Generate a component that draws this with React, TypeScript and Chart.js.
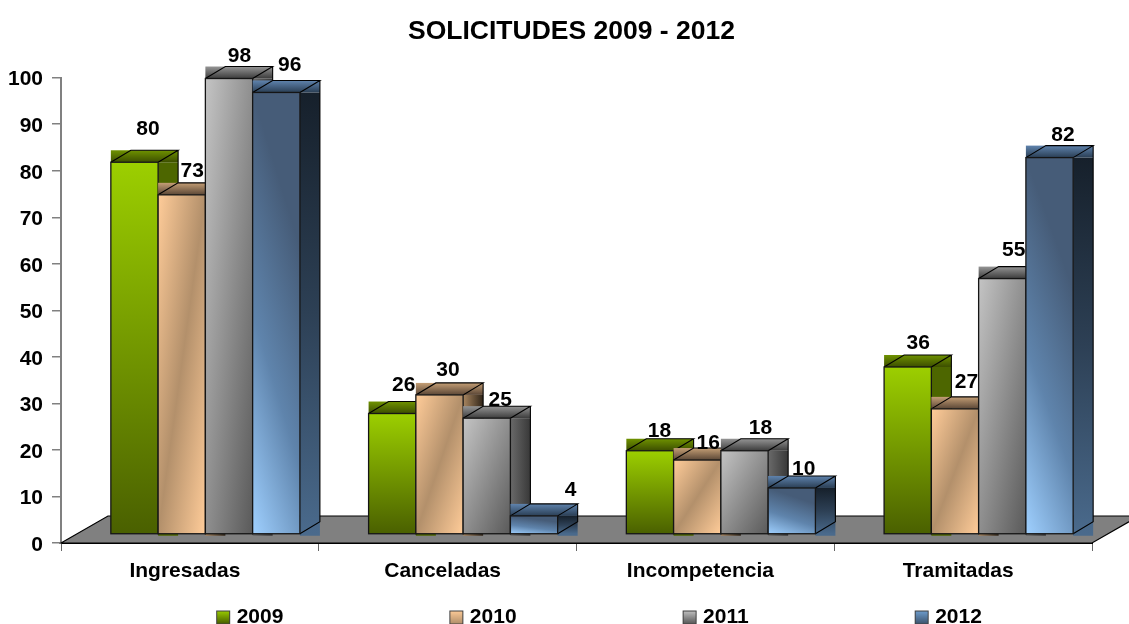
import React, { useEffect, useRef } from "react";
import { Chart, registerables } from "chart.js";

Chart.register(...registerables);

const categories = ["Ingresadas", "Canceladas", "Incompetencia", "Tramitadas"];
const seriesNames = ["2009", "2010", "2011", "2012"];
// bar heights
const values2009 = [80, 26, 18, 36];
const values2010 = [73, 30, 16, 27];
const values2011 = [98, 25, 18, 55];
const values2012 = [95, 4, 10, 81];
// printed data labels
const labels2009 = ["80", "26", "18", "36"];
const labels2010 = ["73", "30", "16", "27"];
const labels2011 = ["98", "25", "18", "55"];
const labels2012 = ["96", "4", "10", "82"];

const FONT = '"Liberation Sans", Arial, sans-serif';
const DX = 20; // depth of the 3D projection
const DY = 12;
const SHIFT_X = 15.5; // floor projection offset of the bars
const SHIFT_Y = 8.5;

// label nudges relative to the front-top centre of each bar
const labelNudges: number[][][] = [
  [[13.5, -34], [11.5, -29], [9.5, -21], [10.5, -25]],
  [[10.5, -25], [8.5, -26], [11, -18], [11.5, -28]],
  [[10.5, -23], [13.5, -19], [16, -24], [11.5, -29]],
  [[13.5, -28], [36.5, -27], [12, -20], [13.5, -23]],
];

type Ctx = CanvasRenderingContext2D;
function grad(ctx: Ctx, x0: number, y0: number, x1: number, y1: number, stops: string[]) {
  const g = ctx.createLinearGradient(x0, y0, x1, y1);
  stops.forEach((c, i) => g.addColorStop(stops.length === 1 ? 0 : i / (stops.length - 1), c));
  return g;
}
// gradient where u = ax*(x-l)/w + ay*(y-t)/h runs over the stops, u=0 at (l+ox*w, t)
function tilted(c: Ctx, l: number, t: number, r: number, b: number, ax: number, ay: number, stops: string[], ox = 0) {
  const w = r - l;
  const h = Math.max(b - t, 1);
  const k = 1 / ((ax * ax) / (w * w) + (ay * ay) / (h * h));
  const x0 = l + ox * w;
  return grad(c, x0, t, x0 + (k * ax) / w, t + (k * ay) / h, stops);
}

type Faces = {
  front: (c: Ctx, l: number, t: number, r: number, b: number) => CanvasGradient;
  side: (c: Ctx, l: number, t: number, r: number, b: number) => CanvasGradient;
  top: string[];
};

const faces: Faces[] = [
  {
    front: (c, l, t, r, b) => grad(c, l, t, l, b, ["#9ccf00", "#4a6000"]),
    side: (c, l, t, r, b) => grad(c, l, t, l, b, ["#4d6600", "#4d6600"]),
    top: ["#6f9200", "#3c4e00"],
  },
  {
    front: (c, l, t, r, b) => tilted(c, l, t, r, b, 0.5, 0.5, ["#ffcc99", "#b3906b", "#ffcc99"]),
    side: (c, l, t, r, b) => grad(c, l, t, r, t, ["#a98660", "#2f2418"]),
    top: ["#c49e75", "#5a4636"],
  },
  {
    front: (c, l, t, r, b) => tilted(c, l, t, r, b, 0.5, 0.5, ["#c4c4c4", "#5a5a5a"]),
    side: (c, l, t, r, b) => grad(c, l, t, r, t, ["#6a6a6a", "#383838"]),
    top: ["#959595", "#3c3c3c"],
  },
  {
    front: (c, l, t, r, b) => tilted(c, l, t, r, b, -0.35, 1, ["#465c78", "#5f84ac", "#9fd0ff"]),
    side: (c, l, t, r, b) => grad(c, l, t, l, b, ["#16202b", "#2d4055", "#4a6a8c"]),
    top: ["#5f83ad", "#2a3e54"],
  },
];

const legendFaces: string[][] = [
  ["#9ccf00", "#4a6000"],
  ["#ffcc99", "#b3906b"],
  ["#c4c4c4", "#5a5a5a"],
  ["#6f9fd0", "#3f5670"],
];

function legendImage(stops: string[]) {
  const cv = document.createElement("canvas");
  cv.width = 186;
  cv.height = 16;
  const c = cv.getContext("2d") as Ctx;
  c.fillStyle = grad(c, 0, 1, 0, 14, stops);
  c.fillRect(170.5, 1.5, 13, 13);
  c.strokeStyle = "#404040";
  c.lineWidth = 1;
  c.strokeRect(170.5, 1.5, 13, 13);
  return cv;
}

const bars3d = {
  id: "bars3d",
  beforeDatasetsDraw(chart: any) {
    const { ctx, chartArea: a } = chart;
    // floor
    ctx.save();
    ctx.beginPath();
    ctx.moveTo(a.left, a.bottom);
    ctx.lineTo(a.left + 47, a.bottom - 27);
    ctx.lineTo(a.right + 47, a.bottom - 27);
    ctx.lineTo(a.right, a.bottom);
    ctx.closePath();
    ctx.fillStyle = "#808080";
    ctx.fill();
    ctx.strokeStyle = "#000";
    ctx.lineWidth = 1.2;
    ctx.stroke();
    ctx.restore();
  },
  afterDatasetsDraw(chart: any) {
    const { ctx } = chart;
    ctx.save();
    chart.data.datasets.forEach((_: any, si: number) => {
      const meta = chart.getDatasetMeta(si);
      const f = faces[si];
      meta.data.forEach((el: any) => {
        const l = el.x - el.width / 2 + SHIFT_X;
        const r = el.x + el.width / 2 + SHIFT_X;
        const t = el.y - SHIFT_Y;
        const b = el.base - SHIFT_Y;
        // side face: filled as a full rectangle as in the original
        ctx.fillStyle = f.side(ctx, r, t, r + DX, b);
        ctx.fillRect(r, t, DX, b - t + 2);
        // top face
        ctx.fillStyle = grad(ctx, l, t - DY, l, t, f.top);
        ctx.fillRect(l, t - DY, r - l + DX, DY);
        ctx.strokeStyle = "#000";
        ctx.lineWidth = 1.1;
        ctx.beginPath();
        ctx.moveTo(l, t);
        ctx.lineTo(l + DX, t - DY);
        ctx.lineTo(r + DX, t - DY);
        ctx.lineTo(r, t);
        ctx.moveTo(r + DX, t - DY);
        ctx.lineTo(r + DX, b - DY);
        ctx.lineTo(r, b);
        ctx.stroke();
        // front face
        ctx.fillStyle = f.front(ctx, l, t, r, b);
        ctx.fillRect(l, t, r - l, b - t);
        ctx.strokeStyle = "#151515";
        ctx.lineWidth = 1.3;
        ctx.strokeRect(l, t, r - l, b - t);
      });
    });
    // data labels on top of all bars
    ctx.fillStyle = "#000";
    ctx.font = `bold 21px ${FONT}`;
    ctx.textAlign = "center";
    ctx.textBaseline = "middle";
    const printed = [labels2009, labels2010, labels2011, labels2012];
    chart.data.datasets.forEach((_: any, si: number) => {
      chart.getDatasetMeta(si).data.forEach((el: any, i: number) => {
        const [nx, ny] = labelNudges[si][i];
        ctx.fillText(printed[si][i], el.x + SHIFT_X + nx, el.y - SHIFT_Y + ny + 1);
      });
    });
    ctx.restore();
  },
  afterLayout(chart: any) {
    // the title and legend of the reference are not centred on the plot
    const lg = chart.legend;
    lg.right -= 58;
    lg.top += 14;
    chart.titleBlock.left += 51;
  },
};

export default function App() {
  const ref = useRef<HTMLCanvasElement>(null);
  useEffect(() => {
    const images = legendFaces.map(legendImage);
    const allValues = [values2009, values2010, values2011, values2012];
    const chart = new Chart(ref.current as HTMLCanvasElement, {
      type: "bar",
      data: {
        labels: categories,
        datasets: seriesNames.map((n, i) => ({
          label: n,
          data: allValues[i],
          backgroundColor: "rgba(0,0,0,0)",
          borderWidth: 0,
          categoryPercentage: 0.7335,
          barPercentage: 1,
        })),
      },
      plugins: [bars3d],
      options: {
        animation: false,
        responsive: false,
        layout: { padding: { left: 0, right: 37, top: 0, bottom: 0 } },
        plugins: {
          tooltip: { enabled: false },
          title: {
            display: true,
            text: "SOLICITUDES 2009 - 2012",
            color: "#000",
            font: { family: FONT, size: 26.5, weight: "bold" },
            padding: { top: 16, bottom: 29.9 },
          },
          legend: {
            display: true,
            position: "bottom",
            labels: {
              usePointStyle: true,
              pointStyleWidth: 174,
              padding: 2,
              color: "#000",
              font: { family: FONT, size: 21, weight: "bold" },
              generateLabels: () =>
                seriesNames.map((n, i) => ({
                  text: n,
                  pointStyle: images[i],
                  fontColor: "#000",
                  datasetIndex: i,
                  lineWidth: 0,
                  hidden: false,
                })) as any,
            },
          },
        },
        scales: {
          x: {
            afterFit: (s: any) => {
              s.height = 624 - 543 - (s.chart.legend?.height ?? 28);
            },
            border: { color: "#000", width: 1 },
            grid: { drawOnChartArea: false, drawTicks: true, tickLength: 8, color: "#666", offset: true },
            ticks: {
              color: "#000",
              padding: 8,
              labelOffset: -5,
              maxRotation: 0,
              font: { family: FONT, size: 21, weight: "bold" },
            },
          },
          y: {
            min: 0,
            max: 100,
            afterFit: (s: any) => {
              s.width = 61;
            },
            border: { color: "#808080", width: 2 },
            grid: { drawOnChartArea: false, drawTicks: true, tickLength: 9, color: "#808080", lineWidth: 1.5 },
            ticks: {
              stepSize: 10,
              color: "#000",
              padding: 9,
              labelOffset: 2,
              font: { family: FONT, size: 21, weight: "bold" },
            },
          },
        },
      },
    } as any);
    return () => chart.destroy();
  }, []);
  return (
    <div style={{ position: "absolute", left: 0, top: 0, width: 1129, height: 624, background: "#fff" }}>
      <canvas ref={ref} width={1129} height={624} style={{ display: "block" }} />
    </div>
  );
}
